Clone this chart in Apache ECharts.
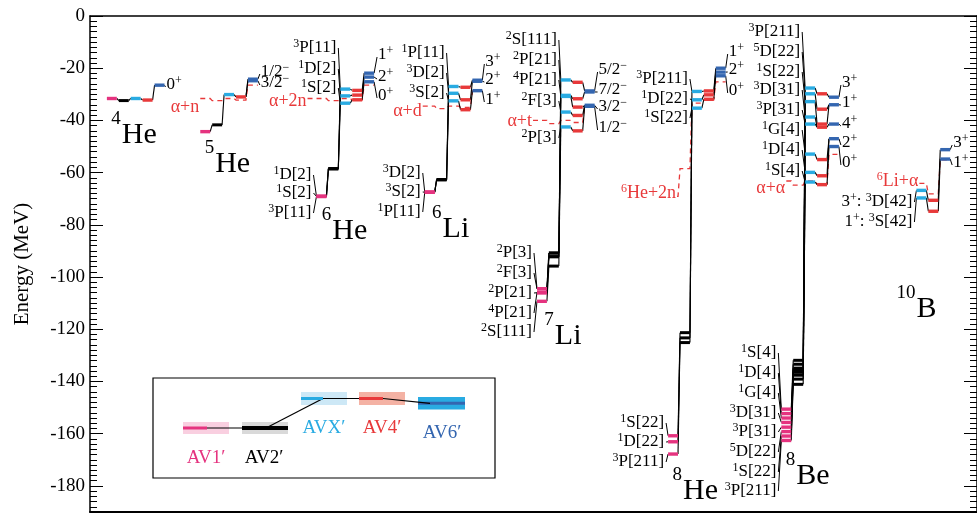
<!DOCTYPE html>
<html><head><meta charset="utf-8">
<script src="https://cdn.jsdelivr.net/npm/echarts@6/dist/echarts.min.js"></script>
<style>html,body{margin:0;padding:0;background:#fff}#c{width:977px;height:515px}</style>
</head><body><div id="c"></div>
<script>
// ---------------- DATA (energies in MeV, each list ordered top -> bottom) ----------------
const MODELS = ['AV1′','AV2′','AVX′','AV4′','AV6′'];
const He4 = [[-31.6],[-32.4],[-31.6],[-32.2],[-26.5]];
const He5 = [[-44.3],[-41.7],[-30.1],[-31.0],[-24.2,-24.8]];
const He6 = [[-69.1,-69.1,-69.1],[-58.5,-58.5,-58.5],[-28.0,-30.6,-33.4],[-28.5,-30.3,-32.1],[-21.9,-23.4,-25.2]];
const Li6 = [[-67.5,-67.5,-67.5],[-62.7,-62.7,-62.7],[-27.0,-29.6,-32.5],[-27.3,-32.1,-35.9],[-24.6,-25.0,-28.6]];
const Li7 = [[-104.5,-104.5,-106.0,-106.0,-109.3],[-90.8,-90.8,-92.2,-92.2,-95.8],[-24.5,-30.4,-30.8,-36.8,-42.5],[-25.4,-31.7,-34.9,-38.1,-44.0],[-28.7,-29.1,-34.2,-34.6]];
const He8 = [[-160.8,-163.1,-167.8],[-121.3,-123.3,-125.1],[-28.9,-32.1,-35.3],[-28.7,-30.2,-31.9],[-20.0,-21.5,-22.9]];
const Be8 = [[-150.6,-152.3,-154.0,-155.7,-157.5,-159.2,-160.9,-162.6],
             [-131.9,-133.4,-134.9,-135.7,-136.5,-137.6,-139.1,-141.1],
             [-27.6,-29.8,-32.8,-38.7,-41.4,-52.9,-59.9,-63.6],
             [-29.8,-35.7,-41.4,-42.6,-55.0,-61.2,-64.6],
             [-31.1,-34.0,-41.4,-47.0,-50.0]];
const B10 = [[],[],[-66.8,-69.7],[-70.6,-74.8],[-51.2,-54.8]];

// thresholds per model (MeV)
const thr_He5 = [-31.6,-32.4,-31.6,-32.2,-26.5];
const thr_He6 = [-31.6,-32.4,-31.6,-32.2,-26.5];
const thr_Li6 = [-34.5,-35.5,-34.5,-35.0,-28.7];
const thr_Li7 = [-40.0,-41.2,-40.0,-40.8,-34.5];
const thr_He8 = [-69.1,-58.5,-33.4,-32.1,-25.2];
const thr_Be8 = [-63.2,-64.8,-63.2,-64.4,-53.0];
const thr_B10 = [null,null,-64.1,-68.1,-55.1];

// level labels
const He4_J = ['0{s|+}'];
const He5_J = ['1/2{s|−}','3/2{s|−}'];
const He6_P = ['{s|1}D[2]','{s|1}S[2]','{s|3}P[11]'];
const He6_X = ['{s|3}P[11]','{s|1}D[2]','{s|1}S[2]'];
const He6_J = ['1{s|+}','2{s|+}','0{s|+}'];
const Li6_P = ['{s|3}D[2]','{s|3}S[2]','{s|1}P[11]'];
const Li6_X = ['{s|1}P[11]','{s|3}D[2]','{s|3}S[2]'];
const Li6_J = ['3{s|+}','2{s|+}','1{s|+}'];
const Li7_P = ['{s|2}P[3]','{s|2}F[3]','{s|2}P[21]','{s|4}P[21]','{s|2}S[111]'];
const Li7_X = ['{s|2}S[111]','{s|2}P[21]','{s|4}P[21]','{s|2}F[3]','{s|2}P[3]'];
const Li7_J = ['5/2{s|−}','7/2{s|−}','3/2{s|−}','1/2{s|−}'];
const He8_P = ['{s|1}S[22]','{s|1}D[22]','{s|3}P[211]'];
const He8_X = ['{s|3}P[211]','{s|1}D[22]','{s|1}S[22]'];
const He8_J = ['1{s|+}','2{s|+}','0{s|+}'];
const Be8_P = ['{s|1}S[4]','{s|1}D[4]','{s|1}G[4]','{s|3}D[31]','{s|3}P[31]','{s|5}D[22]','{s|1}S[22]','{s|3}P[211]'];
const Be8_X = ['{s|3}P[211]','{s|5}D[22]','{s|1}S[22]','{s|3}D[31]','{s|3}P[31]','{s|1}G[4]','{s|1}D[4]','{s|1}S[4]'];
const Be8_J = ['3{s|+}','1{s|+}','4{s|+}','2{s|+}','0{s|+}'];
const B10_X = ['3{s|+}: {s|3}D[42]','1{s|+}: {s|3}S[42]'];
const B10_J = ['3{s|+}','1{s|+}'];

// ---------------- LAYOUT ----------------
const FONT = 'Liberation Serif';
const COLORS = ['#e5337f','#000000','#29abe2','#e8393a','#3466b0'];
const RED = '#e8393a';
const COLW = 12, BARW = 10;
const Y = px => -(px - 16) / 2.6105;   // screen y (px) -> MeV, for text anchors

const nuclei = [
 {lev:He4, x0:107, name:['4','He'], nameAt:[122,135], J:He4_J, Jx:167, Jy:[85]},
 {lev:He5, x0:201, name:['5','He'], nameAt:[216,164], J:He5_J, Jx:262, Jy:[72,83],
  thr:thr_He5, thrName:'α+n', thrAt:[200,107]},
 {lev:He6, x0:318, name:['6','He'], nameAt:[334,231],
  P:He6_P, Px:313, Py:[175,193,213], X:He6_X, Xx:338, Xy:[48,69,88], J:He6_J, Jx:380, Jy:[55,77,96],
  thr:thr_He6, thrName:'α+2n', thrAt:[308,101]},
 {lev:Li6, x0:427, name:['6','Li'], nameAt:[445,229],
  P:Li6_P, Px:423, Py:[173,192,212], X:Li6_X, Xx:447, Xy:[53,73,93], J:Li6_J, Jx:488, Jy:[62,80,100],
  thr:thr_Li6, thrName:'α+d', thrAt:[424,111]},
 {lev:Li7, x0:540, name:['7','Li'], nameAt:[558,336],
  P:Li7_P, Px:535, Py:[253,273,293,313,332], X:Li7_X, Xx:560, Xy:[40,60,80,101,138], J:Li7_J, Jx:602, Jy:[70,90,107,128],
  thr:thr_Li7, thrName:'α+t', thrAt:[535,121]},
 {lev:He8, x0:672, name:['8','He'], nameAt:[687,491],
  P:He8_P, Px:668, Py:[423,442,462], X:He8_X, Xx:692, Xy:[79,99,118], J:He8_J, Jx:733, Jy:[52,70,91],
  thr:thr_He8, thrName:'{s|6}He+2n', thrAt:[680,193]},
 {lev:Be8, x0:786, name:['8','Be'], nameAt:[801,476],
  P:Be8_P, Px:781, Py:[353,373,393,413,432,452,472,491], X:Be8_X, Xx:805, Xy:[32,52,72,90,110,130,150,171],
  J:Be8_J, Jx:847, Jy:[83,103,124,143,163],
  thr:thr_Be8, thrName:'α+α', thrAt:[790,188]},
 {lev:B10, x0:898, name:['10','B'], nameAt:[922,309],
  X:B10_X, Xx:918, Xy:[202,222], J:B10_J, Jx:959, Jy:[143,163],
  thr:thr_B10, thrName:'{s|6}Li+α', thrAt:[924,181]}
];

// ---------------- BUILD ----------------
const bars = [], segs = [], texts = [], dashes = [];
nuclei.forEach(n => {
  n.lev.forEach((arr, m) => arr.forEach(E => bars.push([n.x0 + COLW*m, n.x0 + COLW*m + BARW, E, m])));
  for (let m = 0; m < 4; m++) {
    const A = n.lev[m], B = n.lev[m+1];
    if (!A.length || !B.length) continue;
    const N = Math.max(A.length, B.length);
    for (let i = 0; i < N; i++) {
      const a = A.length === N ? i : (N === 1 ? 0 : Math.round(i*(A.length-1)/(N-1)));
      const b = B.length === N ? i : (N === 1 ? 0 : Math.round(i*(B.length-1)/(N-1)));
      segs.push([n.x0 + COLW*m + BARW, A[a], n.x0 + COLW*(m+1), B[b], 1.1]);
    }
  }
  if (n.P) n.P.forEach((t, i) => {
    texts.push({x:n.Px, y:Y(n.Py[i]), text:t, align:'right', size:17, sup:12, lh:20, color:'#000'});
    segs.push([n.Px + 2, Y(n.Py[i]), n.x0, n.lev[0][i], 1]);
  });
  if (n.X) n.X.forEach((t, i) => {
    texts.push({x:n.Xx, y:Y(n.Xy[i]), text:t, align:'right', size:17, sup:12, lh:20, color:'#000'});
    segs.push([n.Xx + 2, Y(n.Xy[i]), n.x0 + COLW*2, n.lev[2][i], 1]);
  });
  if (n.J) n.J.forEach((t, i) => {
    texts.push({x:n.Jx, y:Y(n.Jy[i]), text:t, align:'left', size:17, sup:12, lh:20, color:'#000'});
    segs.push([n.x0 + COLW*4 + BARW, n.lev[4][i], n.Jx - 1, Y(n.Jy[i] + 2), 1]);
  });
  // nucleus name: superscript mass number + element symbol
  texts.push({x:n.nameAt[0] - 1, y:Y(n.nameAt[1] - 16), text:n.name[0], align:'right', size:19, sup:12, lh:22, color:'#000'});
  texts.push({x:n.nameAt[0], y:Y(n.nameAt[1]), text:n.name[1], align:'left', size:30, sup:17, lh:32, color:'#000'});
  if (n.thr) {
    texts.push({x:n.thrAt[0], y:Y(n.thrAt[1]), text:n.thrName, align:'right', size:18, sup:12, lh:20, color:RED});
    const xE = n.thrAt[0] + 1;
    const first = n.thr.findIndex(v => v !== null);
    const pts = [[xE, n.thr[first]]];
    n.thr.forEach((v, c) => {
      if (v === null) return;
      const cs = n.x0 + COLW*c, ce = cs + BARW;
      if (ce <= xE) { pts[0][1] = v; return; }
      pts.push([Math.max(cs, xE), v], [ce, v]);
    });
    dashes.push(pts);
  }
});

// ---------------- CHART ----------------
const chart = echarts.init(document.getElementById('c'), null, {renderer:'canvas'});
const yMajor = pos => ({
  type:'value', min:-190, max:0, splitNumber:10, position:pos,
  name: pos === 'left' ? 'Energy (MeV)' : '', nameLocation:'middle', nameGap:57,
  nameTextStyle:{fontFamily:FONT, fontSize:21, color:'#000'},
  axisLine:{show:true, onZero:false, lineStyle:{color:'#000', width:1.5}},
  axisTick:{show:true, inside:true, length:13, lineStyle:{color:'#000', width:1}},
  minorTick:{show:false}, splitLine:{show:false},
  axisLabel: pos === 'left'
    ? {show:true, fontFamily:FONT, fontSize:19, color:'#000', margin:5, showMinLabel:false,
       formatter: v => (v <= -190 ? '' : String(v))}
    : {show:false}
});
const yMinor = pos => ({
  type:'value', min:-190, max:0, interval:10, position:pos,
  axisLine:{show:false}, axisLabel:{show:false}, splitLine:{show:false},
  axisTick:{show:true, inside:true, length:7, lineStyle:{color:'#000', width:1}},
  minorTick:{show:true, splitNumber:5, length:7, lineStyle:{color:'#000', width:1}}
});

const option = {
  animation:false,
  backgroundColor:'#fff',
  textStyle:{fontFamily:FONT},
  grid:{left:90, top:16, width:893, height:496, containLabel:false},
  xAxis:[
    {type:'value', min:90, max:983, position:'bottom', axisLine:{show:true, onZero:false, lineStyle:{color:'#000', width:2}},
     axisTick:{show:false}, axisLabel:{show:false}, splitLine:{show:false}},
    {type:'value', min:90, max:983, position:'top', axisLine:{show:true, onZero:false, lineStyle:{color:'#000', width:1.5}},
     axisTick:{show:false}, axisLabel:{show:false}, splitLine:{show:false}}
  ],
  yAxis:[yMajor('left'), yMinor('left'), yMajor('right'), yMinor('right')],
  series:[
    { // threshold dashed lines
      type:'custom', z:2, clip:false,
      data: dashes.map(p => [p[0][0], p[0][1]]),
      encode:{x:0, y:1},
      renderItem:(params, api) => {
        const pts = dashes[params.dataIndex].map(p => api.coord(p));
        return {type:'polyline', shape:{points:pts}, style:{stroke:RED, lineWidth:1.3, lineDash:[5,4], fill:null}};
      }
    },
    { // connecting & leader lines
      type:'custom', z:3, clip:false,
      data: segs, encode:{x:[0,2], y:[1,3]},
      renderItem:(params, api) => {
        const p1 = api.coord([api.value(0), api.value(1)]);
        const p2 = api.coord([api.value(2), api.value(3)]);
        return {type:'line', shape:{x1:p1[0], y1:p1[1], x2:p2[0], y2:p2[1]},
                style:{stroke:'#000', lineWidth:api.value(4)}};
      }
    },
    { // level bars
      type:'custom', z:4, clip:false,
      data: bars, encode:{x:[0,1], y:2},
      renderItem:(params, api) => {
        const m = api.value(3);
        const p1 = api.coord([api.value(0), api.value(2)]);
        const p2 = api.coord([api.value(1), api.value(2)]);
        return {type:'line', shape:{x1:p1[0], y1:p1[1], x2:p2[0], y2:p2[1]},
                style:{stroke:COLORS[m], lineWidth: m === 1 ? 3 : 3.4}};
      }
    },
    { // texts
      type:'custom', z:5, clip:false,
      data: texts.map(t => [t.x, t.y]), encode:{x:0, y:1},
      renderItem:(params, api) => {
        const t = texts[params.dataIndex];
        const p = api.coord([api.value(0), api.value(1)]);
        return {type:'text', x:p[0], y:p[1],
          style:{text:t.text, fill:t.color, fontSize:t.size, fontFamily:FONT, lineHeight:t.lh,
                 align:t.align, verticalAlign:'middle',
                 rich:{s:{fontSize:t.sup, lineHeight:t.sup, verticalAlign:'top', fill:t.color, fontFamily:FONT}}}};
      }
    }
  ],
  graphic:[
    {type:'rect', shape:{x:153, y:378, width:342, height:100}, style:{fill:'none', stroke:'#000', lineWidth:1.2}},
    {type:'rect', shape:{x:183, y:422, width:46, height:12}, style:{fill:'#f9cfe0'}},
    {type:'rect', shape:{x:242, y:422, width:46, height:12}, style:{fill:'#d9d9d9'}},
    {type:'rect', shape:{x:301, y:392, width:46, height:13}, style:{fill:'#cde8f6'}},
    {type:'rect', shape:{x:359, y:392, width:46, height:13}, style:{fill:'#f4b2a4'}},
    {type:'rect', shape:{x:418, y:397, width:47, height:12.6}, style:{fill:'#29abe2'}},
    {type:'line', shape:{x1:183, y1:428, x2:207, y2:428}, style:{stroke:'#e5337f', lineWidth:3}},
    {type:'line', shape:{x1:207, y1:428, x2:242, y2:428}, style:{stroke:'#000', lineWidth:1.2}},
    {type:'line', shape:{x1:242, y1:428, x2:288, y2:428}, style:{stroke:'#000', lineWidth:4}},
    {type:'line', shape:{x1:266, y1:428, x2:323, y2:398.5}, style:{stroke:'#000', lineWidth:1.2}},
    {type:'line', shape:{x1:301, y1:398.5, x2:323, y2:398.5}, style:{stroke:'#29abe2', lineWidth:3}},
    {type:'line', shape:{x1:323, y1:398.5, x2:359, y2:398.5}, style:{stroke:'#000', lineWidth:1.2}},
    {type:'line', shape:{x1:359, y1:398.5, x2:383, y2:398.5}, style:{stroke:'#e8393a', lineWidth:3}},
    {type:'line', shape:{x1:418, y1:403.3, x2:465, y2:403.3}, style:{stroke:'#3466b0', lineWidth:3}},
    {type:'line', shape:{x1:383, y1:398.5, x2:430, y2:403.3}, style:{stroke:'#000', lineWidth:1.2}},
    {type:'text', x:206, y:458, style:{text:MODELS[0], fill:'#e5337f', fontSize:19, fontFamily:FONT, align:'center', verticalAlign:'middle'}},
    {type:'text', x:264, y:458, style:{text:MODELS[1], fill:'#000', fontSize:19, fontFamily:FONT, align:'center', verticalAlign:'middle'}},
    {type:'text', x:324, y:428, style:{text:MODELS[2], fill:'#29abe2', fontSize:19, fontFamily:FONT, align:'center', verticalAlign:'middle'}},
    {type:'text', x:382, y:428, style:{text:MODELS[3], fill:'#e8393a', fontSize:19, fontFamily:FONT, align:'center', verticalAlign:'middle'}},
    {type:'text', x:442, y:433, style:{text:MODELS[4], fill:'#3466b0', fontSize:19, fontFamily:FONT, align:'center', verticalAlign:'middle'}}
  ]
};
chart.setOption(option);
</script>
</body></html>
